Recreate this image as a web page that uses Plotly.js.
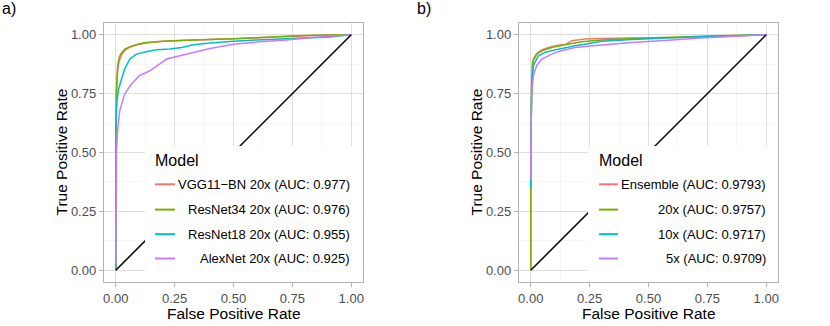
<!DOCTYPE html>
<html>
<head>
<meta charset="utf-8">
<script src="https://cdn.plot.ly/plotly-3.0.1.min.js"></script>
<style>
  html, body { margin: 0; padding: 0; background: #fff; }
  #roc { width: 830px; height: 326px; }
</style>
</head>
<body>
<div id="roc"></div>
<script>
// ggplot default hue palette
const colors = ['#F8766D', '#7CAE00', '#00BFC4', '#C77CFF'];

// panel a) - models at 20x
const labelsA = ['VGG11\u2212BN 20x (AUC: 0.977)', 'ResNet34 20x (AUC: 0.976)',
                 'ResNet18 20x (AUC: 0.955)', 'AlexNet 20x (AUC: 0.925)'];
const vggFpr = [0, 0, 0.003, 0.008, 0.015, 0.025, 0.04, 0.06, 0.09, 0.13, 0.2, 0.3, 0.4, 0.5, 0.6, 0.7, 0.8, 0.9, 1];
const vggTpr = [0, 0.5, 0.75, 0.85, 0.89, 0.915, 0.935, 0.948, 0.958, 0.965, 0.972, 0.977, 0.98, 0.983, 0.987, 0.992, 0.996, 0.998, 1];
const res34Fpr = [0, 0, 0.003, 0.008, 0.015, 0.025, 0.04, 0.07, 0.1, 0.13, 0.2, 0.3, 0.4, 0.5, 0.6, 0.7, 0.8, 0.9, 1];
const res34Tpr = [0, 0.55, 0.78, 0.87, 0.905, 0.925, 0.94, 0.952, 0.962, 0.967, 0.973, 0.977, 0.98, 0.983, 0.987, 0.993, 0.997, 0.999, 1];
const res18Fpr = [0, 0, 0.005, 0.012, 0.024, 0.038, 0.06, 0.088, 0.13, 0.173, 0.23, 0.28, 0.33, 0.4, 0.5, 0.6, 0.7, 0.78, 0.9, 1];
const res18Tpr = [0, 0.6, 0.72, 0.77, 0.81, 0.855, 0.897, 0.918, 0.928, 0.936, 0.94, 0.946, 0.958, 0.965, 0.973, 0.978, 0.982, 0.986, 0.99, 1];
const alexFpr = [0, 0.003, 0.008, 0.017, 0.038, 0.067, 0.1, 0.145, 0.187, 0.216, 0.272, 0.33, 0.4, 0.5, 0.61, 0.71, 0.854, 1];
const alexTpr = [0.03, 0.5, 0.6, 0.678, 0.749, 0.791, 0.826, 0.847, 0.876, 0.897, 0.911, 0.925, 0.942, 0.96, 0.97, 0.977, 0.989, 1];

// panel b) - ensemble vs magnifications
const labelsB = ['Ensemble (AUC: 0.9793)', '20x (AUC: 0.9757)', '10x (AUC: 0.9717)', '5x (AUC: 0.9709)'];
const ensFpr = [0, 0, 0.004, 0.011, 0.02, 0.032, 0.047, 0.075, 0.117, 0.15, 0.174, 0.23, 0.3, 0.43, 0.6, 0.72, 0.85, 1];
const ensTpr = [0, 0.5, 0.8, 0.897, 0.912, 0.925, 0.936, 0.946, 0.956, 0.96, 0.975, 0.982, 0.984, 0.986, 0.988, 0.99, 0.995, 1];
const x20Fpr = [0, 0, 0.004, 0.007, 0.025, 0.047, 0.089, 0.145, 0.216, 0.3, 0.43, 0.6, 0.75, 0.9, 1];
const x20Tpr = [0, 0.5, 0.8, 0.883, 0.918, 0.932, 0.946, 0.958, 0.97, 0.978, 0.984, 0.99, 0.995, 0.998, 1];
const x10Fpr = [0, 0, 0.004, 0.011, 0.032, 0.06, 0.117, 0.188, 0.23, 0.3, 0.43, 0.6, 0.75, 0.9, 1];
const x10Tpr = [0.35, 0.5, 0.78, 0.869, 0.911, 0.925, 0.939, 0.953, 0.96, 0.972, 0.98, 0.987, 0.993, 0.997, 1];
const x5Fpr = [0, 0, 0.004, 0.011, 0.025, 0.047, 0.089, 0.13, 0.188, 0.265, 0.43, 0.6, 0.72, 0.85, 1];
const x5Tpr = [0.39, 0.5, 0.75, 0.826, 0.869, 0.897, 0.918, 0.932, 0.946, 0.953, 0.967, 0.978, 0.986, 0.993, 1];

const chance = [0, 1];
const tickVals = [0, 0.25, 0.5, 0.75, 1];

const W = 830, H = 326;
const font = 'Liberation Sans, Arial, Helvetica, sans-serif';
const px = (x) => x / W;
const py = (y) => 1 - y / H;

function curve(x, y, color, xa, ya) {
    return {
        x: x, y: y, xaxis: xa, yaxis: ya,
        type: 'scatter', mode: 'lines',
        line: { color: color, width: 1.5, simplify: false },
        showlegend: false, hoverinfo: 'skip',
    };
}

const data = [
    curve(vggFpr, vggTpr, colors[0], 'x', 'y'),
    curve(res34Fpr, res34Tpr, colors[1], 'x', 'y'),
    curve(res18Fpr, res18Tpr, colors[2], 'x', 'y'),
    curve(alexFpr, alexTpr, colors[3], 'x', 'y'),
    curve(chance, chance, '#000000', 'x', 'y'),
    curve(ensFpr, ensTpr, colors[0], 'x2', 'y2'),
    curve(x20Fpr, x20Tpr, colors[1], 'x2', 'y2'),
    curve(x10Fpr, x10Tpr, colors[2], 'x2', 'y2'),
    curve(x5Fpr, x5Tpr, colors[3], 'x2', 'y2'),
    curve(chance, chance, '#000000', 'x2', 'y2'),
];

function axis(domain, anchor) {
    return {
        domain: domain, anchor: anchor,
        range: [-0.05, 1.05],
        tickvals: tickVals, tickformat: '.2f',
        ticks: 'outside', ticklen: 4, tickwidth: 1, tickcolor: '#b3b3b3',
        tickfont: { family: font, size: 13, color: '#4d4d4d' },
        showline: true, mirror: true, linecolor: '#b3b3b3', linewidth: 1.2,
        showgrid: true, gridcolor: '#dedede', gridwidth: 1,
        minor: { tick0: 0.125, dtick: 0.25, showgrid: true, gridcolor: '#ebebeb', gridwidth: 0.5, ticks: '' },
        zeroline: false, fixedrange: true,
    };
}

const yDom = [py(282), py(23)];

// legend boxes drawn by hand so labels can be right aligned like ggplot
const legends = [
    { labels: labelsA, box: [145, 146, 362.5, 281.5], titleX: 153, keyX: [155, 175], textRight: 352 },
    { labels: labelsB, box: [588, 146, 777.5, 281.5], titleX: 597, keyX: [599, 618], textRight: 768 },
];
const rowY = [184.3, 209.6, 234.2, 258.5];

const shapes = [];
const annotations = [];
legends.forEach(function (lg) {
    shapes.push({
        type: 'rect', xref: 'paper', yref: 'paper', layer: 'above',
        x0: px(lg.box[0]), x1: px(lg.box[2]), y0: py(lg.box[3]), y1: py(lg.box[1]),
        fillcolor: '#ffffff', line: { width: 0 },
    });
    annotations.push({
        text: 'Model', xref: 'paper', yref: 'paper', showarrow: false,
        x: px(lg.titleX), y: py(160.7), xanchor: 'left', yanchor: 'middle',
        font: { family: font, size: 16, color: '#000000' },
    });
    lg.labels.forEach(function (lab, i) {
        shapes.push({
            type: 'line', xref: 'paper', yref: 'paper', layer: 'above',
            x0: px(lg.keyX[0]), x1: px(lg.keyX[1]), y0: py(rowY[i]), y1: py(rowY[i]),
            line: { color: colors[i], width: 2 },
        });
        annotations.push({
            text: lab, xref: 'paper', yref: 'paper', showarrow: false,
            x: px(lg.textRight), y: py(rowY[i]), xanchor: 'right', yanchor: 'middle',
            font: { family: font, size: 13, color: '#000000' },
        });
    });
});

// axis titles and panel tags
[0, 415].forEach(function (off, k) {
    annotations.push({
        text: 'False Positive Rate', xref: 'paper', yref: 'paper', showarrow: false,
        x: px(233.5 + off), y: py(313), xanchor: 'center', yanchor: 'middle',
        font: { family: font, size: 15.5, color: '#000000' },
    });
    annotations.push({
        text: 'True Positive Rate', xref: 'paper', yref: 'paper', showarrow: false,
        x: px(61 + off), y: py(152.5), xanchor: 'center', yanchor: 'middle', textangle: -90,
        font: { family: font, size: 15.5, color: '#000000' },
    });
    annotations.push({
        text: k === 0 ? 'a)' : 'b)', xref: 'paper', yref: 'paper', showarrow: false,
        x: px(0 + off), y: py(9), xanchor: 'left', yanchor: 'middle',
        font: { family: font, size: 16, color: '#000000' },
    });
});

const layout = {
    width: W, height: H,
    margin: { l: 0, r: 0, t: 0, b: 0, pad: 0 },
    paper_bgcolor: '#ffffff', plot_bgcolor: '#ffffff',
    showlegend: false,
    xaxis: axis([px(104), px(363)], 'y'),
    yaxis: axis(yDom, 'x'),
    xaxis2: axis([px(519), px(778)], 'y2'),
    yaxis2: axis(yDom, 'x2'),
    shapes: shapes,
    annotations: annotations,
};

Plotly.newPlot('roc', data, layout, { staticPlot: true });
</script>
</body>
</html>
